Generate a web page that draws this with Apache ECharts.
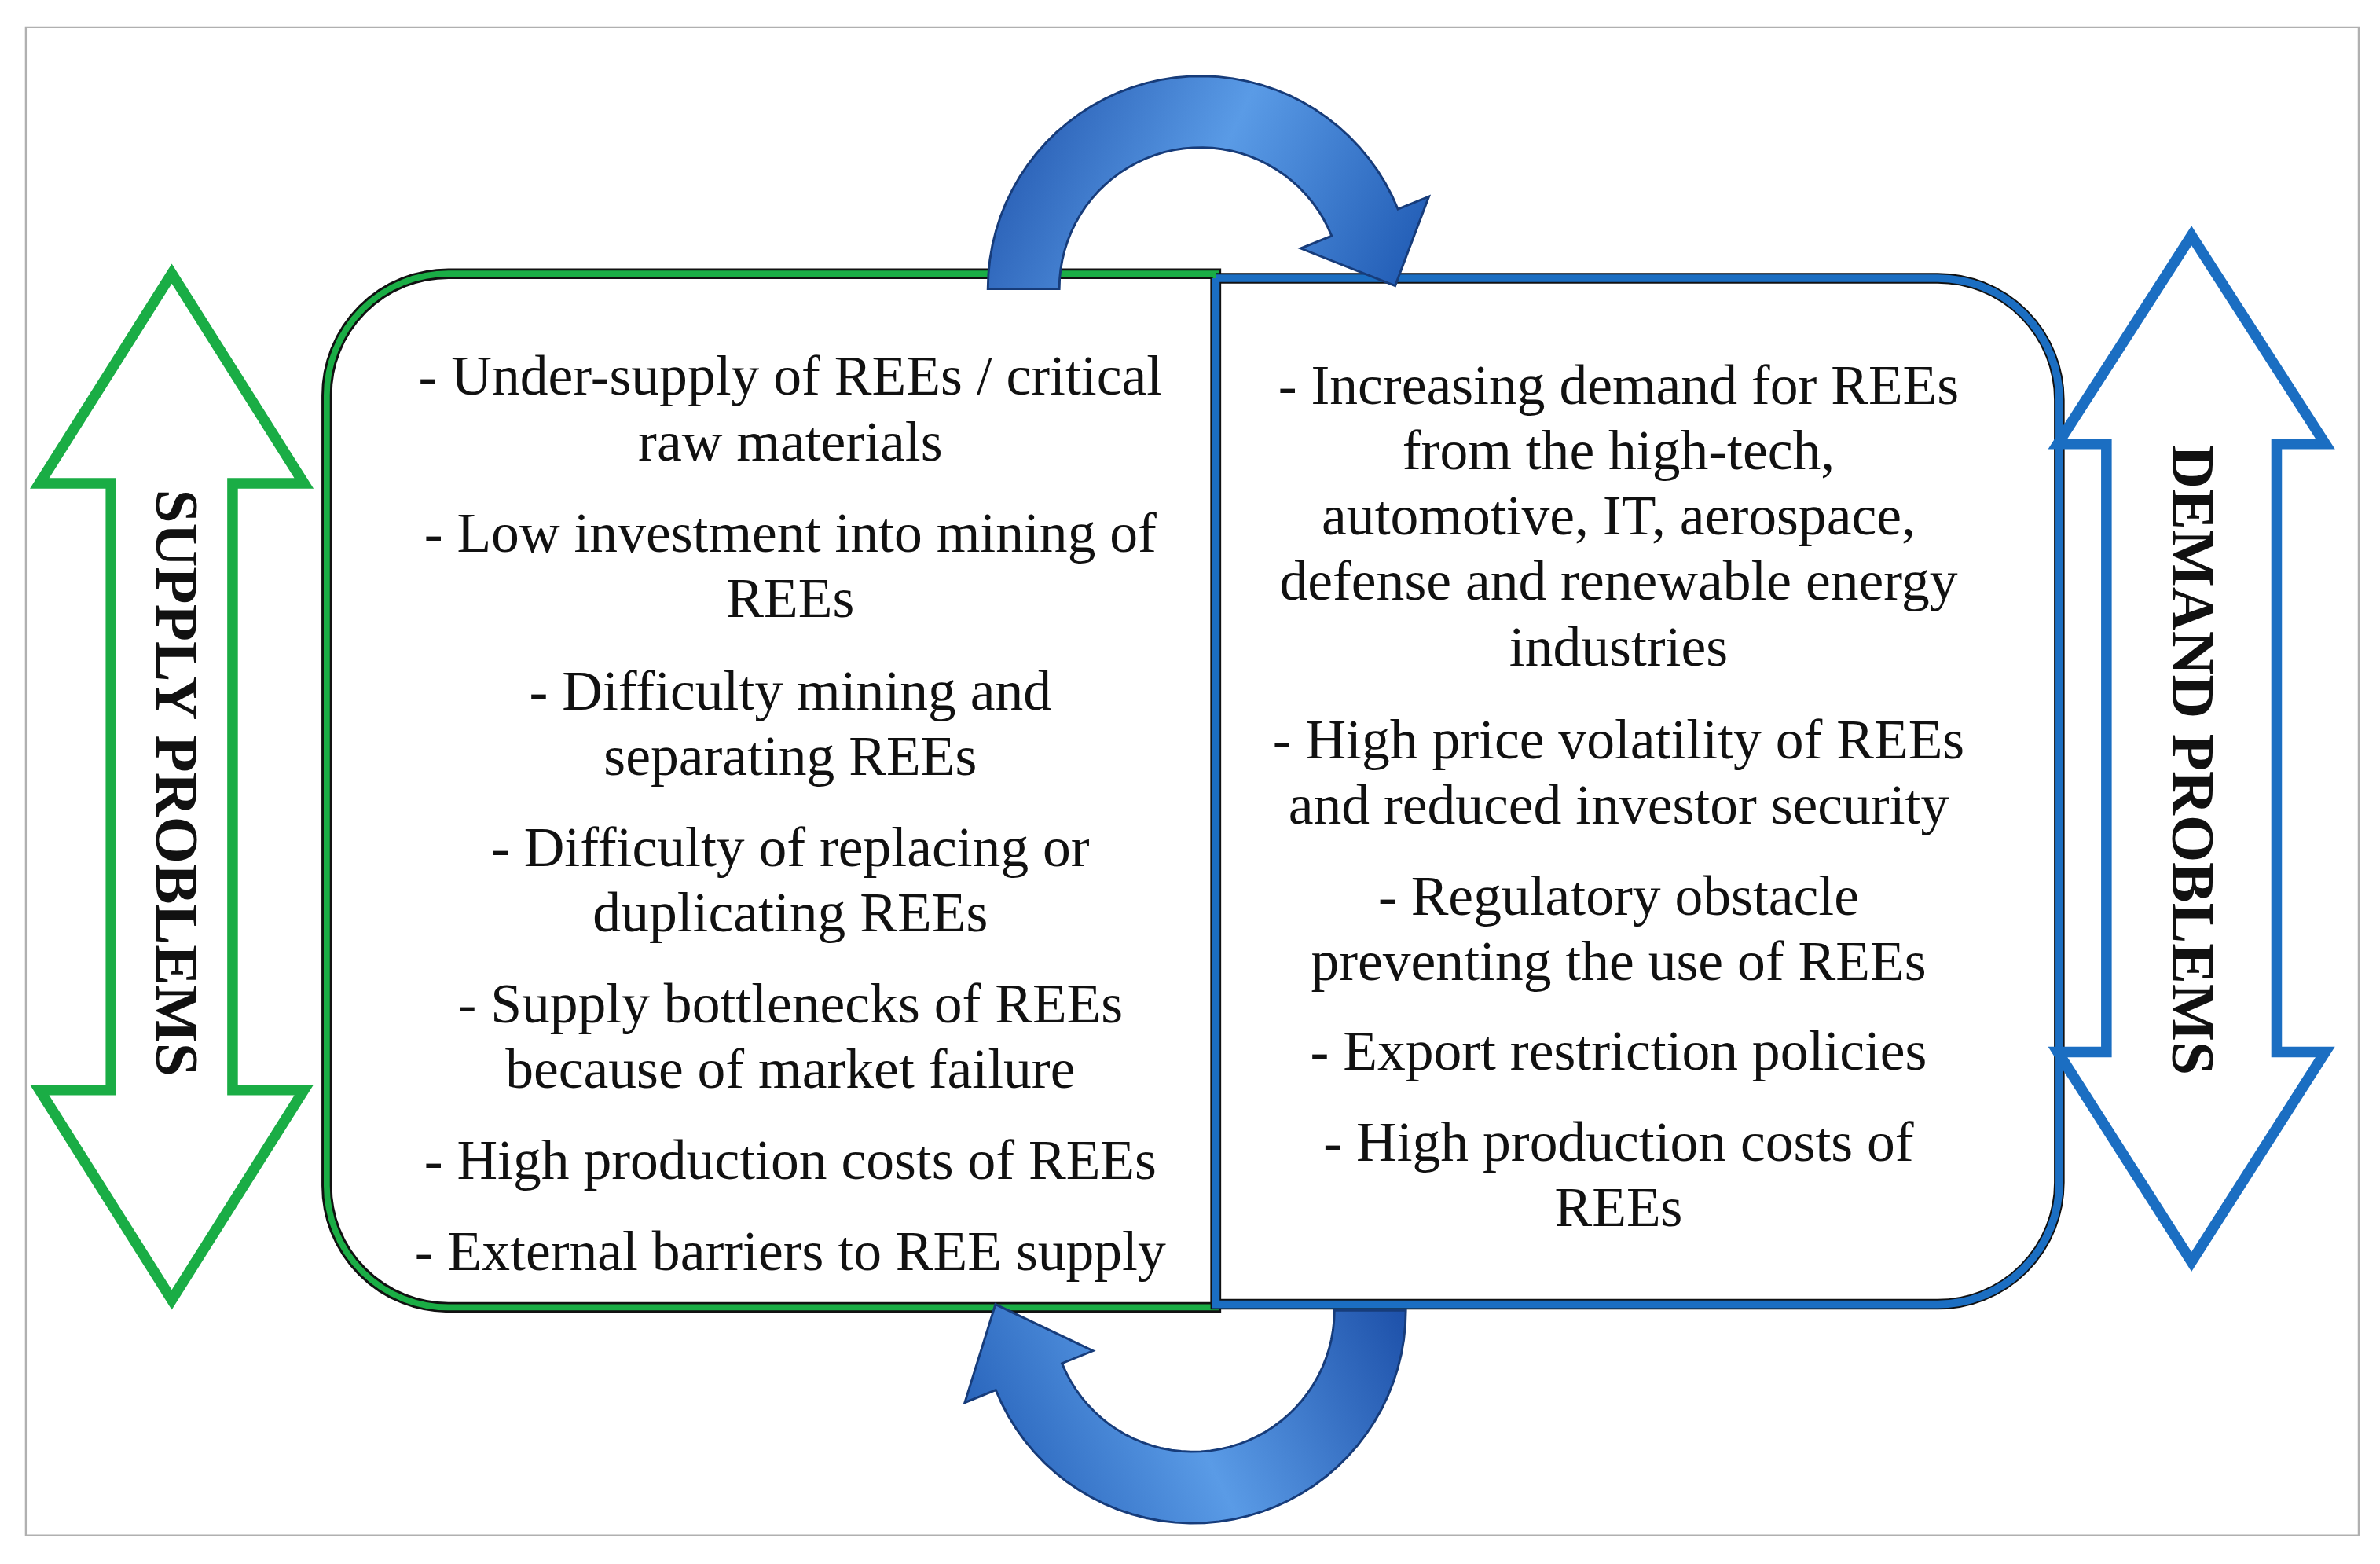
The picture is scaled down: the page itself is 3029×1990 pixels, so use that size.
<!DOCTYPE html>
<html><head><meta charset="utf-8">
<script src="https://cdn.jsdelivr.net/npm/echarts@6/dist/echarts.min.js"></script>
<style>html,body{margin:0;padding:0;background:#fff}#c{width:3029px;height:1990px}</style>
</head><body><div id="c"></div>
<script>
const leftTitle = 'SUPPLY PROBLEMS';
const rightTitle = 'DEMAND PROBLEMS';
const leftLines = ['- Under-supply of REEs / critical','raw materials','- Low investment into mining of','REEs','- Difficulty mining and','separating REEs','- Difficulty of replacing or','duplicating REEs','- Supply bottlenecks of REEs','because of market failure','- High production costs of REEs','- External barriers to REE supply'];
const leftY = [250,293,353,396,457,500,560,603,663,706,766,826];
const rightLines = ['- Increasing demand for REEs','from the high-tech,','automotive, IT, aerospace,','defense and renewable energy','industries','- High price volatility of REEs','and reduced investor security','- Regulatory obstacle','preventing the use of REEs','- Export restriction policies','- High production costs of','REEs'];
const rightY = [256,299,342,385,428,489,532,592,635,694,754,797];

const S = 3029/1566;
const GREEN = '#1aad45', BLUE = '#1b6ec2';
const FONT = '"Liberation Serif", serif';

function dblArrow(cx, top, bot, hw, sw, hb1, hb2){
  return [[cx,top],[cx+hw,hb1],[cx+sw,hb1],[cx+sw,hb2],[cx+hw,hb2],[cx,bot],[cx-hw,hb2],[cx-sw,hb2],[cx-sw,hb1],[cx-hw,hb1]];
}
function curved(cx, cy, R, r, a0, a1, tip, ext){
  const pts=[]; const n=40; const rad=d=>d*Math.PI/180;
  for(let i=0;i<=n;i++){const a=rad(a0+(a1-a0)*i/n);pts.push([cx+R*Math.cos(a),cy-R*Math.sin(a)]);}
  const ae=rad(a1);
  pts.push([cx+(R+ext)*Math.cos(ae),cy-(R+ext)*Math.sin(ae)]);
  pts.push(tip);
  pts.push([cx+(r-ext)*Math.cos(ae),cy-(r-ext)*Math.sin(ae)]);
  for(let i=n;i>=0;i--){const a=rad(a0+(a1-a0)*i/n);pts.push([cx+r*Math.cos(a),cy-r*Math.sin(a)]);}
  return pts;
}
const grad = (x0,y0,x1,y1)=>new echarts.graphic.LinearGradient(x0,y0,x1,y1,[{offset:0,color:'#1c4fa8'},{offset:0.5,color:'#5a9be6'},{offset:1,color:'#1c56b0'}]);

const children = [
  {type:'rect',shape:{x:17,y:18,width:1535,height:992},style:{fill:'#fff',stroke:'#b0b0b0',lineWidth:1.2}},
  {type:'rect',shape:{x:215,y:180,width:585,height:680,r:[80,0,0,80]},style:{fill:'#fff',stroke:'#111',lineWidth:7}},
  {type:'rect',shape:{x:215,y:180,width:585,height:680,r:[80,0,0,80]},style:{fill:'none',stroke:GREEN,lineWidth:4}},
  {type:'rect',shape:{x:800,y:183,width:555,height:675,r:[0,80,80,0]},style:{fill:'#fff',stroke:'#111',lineWidth:7}},
  {type:'rect',shape:{x:800,y:183,width:555,height:675,r:[0,80,80,0]},style:{fill:'none',stroke:BLUE,lineWidth:5}},
  {type:'polygon',shape:{points:dblArrow(113,180,855,87,40,318,717)},style:{fill:'#fff',stroke:GREEN,lineWidth:7,lineJoin:'miter'}},
  {type:'polygon',shape:{points:dblArrow(1442,155,830,88,56,292,692)},style:{fill:'#fff',stroke:BLUE,lineWidth:7,lineJoin:'miter'}},
  {type:'text',x:113,y:515,rotation:-Math.PI/2,style:{text:leftTitle,font:'bold 40px '+FONT,fill:'#111',align:'center',verticalAlign:'middle'}},
  {type:'text',x:1440,y:500,rotation:-Math.PI/2,style:{text:rightTitle,font:'bold 40px '+FONT,fill:'#111',align:'center',verticalAlign:'middle'}},
  {type:'polygon',shape:{points:curved(790,190,140,93,180,22,[918,188],22)},style:{fill:grad(0,0,1,1),stroke:'#173c7a',lineWidth:1.5}},
  {type:'polygon',shape:{points:curved(785,862,140,93,0,-158,[655,858],22)},style:{fill:grad(1,0,0,1),stroke:'#173c7a',lineWidth:1.5}},
];
leftLines.forEach((t,i)=>children.push({type:'text',x:520,y:leftY[i],style:{text:t,font:'37px '+FONT,fill:'#111',align:'center',verticalAlign:'middle'}}));
rightLines.forEach((t,i)=>children.push({type:'text',x:1065,y:rightY[i],style:{text:t,font:'37px '+FONT,fill:'#111',align:'center',verticalAlign:'middle'}}));

const chart = echarts.init(document.getElementById('c'));
chart.setOption({animation:false,backgroundColor:'#fff',graphic:[{type:'group',scaleX:S,scaleY:S,children}]});
</script></body></html>
